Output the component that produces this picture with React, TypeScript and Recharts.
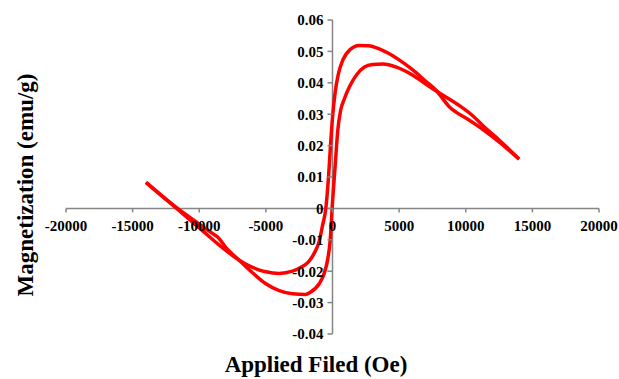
import React from 'react';
import { LineChart, Line, XAxis, YAxis, ReferenceLine } from 'recharts';

// axis ticks
const fieldTicks = [-20000, -15000, -10000, -5000, 0, 5000, 10000, 15000, 20000];
const momentTicks = [-0.04, -0.03, -0.02, -0.01, 0, 0.01, 0.02, 0.03, 0.04, 0.05, 0.06];

// branch with the higher peak (crosses zero at negative field)
const upperField = [
    -14000, -12000, -10000, -8000, -7000, -6000, -5000, -4000, -3000, -2400, -1800, -1400, -1000, -750, -500,
    -300, -150, 0, 200, 450, 800, 1300, 2000, 2700, 3500, 4200, 5000, 6000, 7000, 7800, 8100, 8800, 9300,
    10300, 11500, 12500, 14000,
];
const upperMoment = [
    0.0083, 0.0011, -0.0062, -0.0134, -0.0165, -0.0188, -0.0202, -0.0207, -0.0200, -0.0188, -0.0170, -0.0145,
    -0.0105, -0.0055, 0, 0.010, 0.020, 0.029, 0.037, 0.043, 0.0475, 0.0505, 0.0519, 0.0518, 0.0508, 0.0494,
    0.0473, 0.0442, 0.0405, 0.0375, 0.0359, 0.0322, 0.0306, 0.0280, 0.0245, 0.0212, 0.0157,
];

// branch with the deeper minimum (crosses zero near the origin)
const lowerField = [
    -14000, -12000, -10000, -9000, -8600, -8000, -7000, -6000, -5000, -4000, -3000, -2000, -1700, -1000, -650,
    -350, -170, 0, 200, 400, 600, 900, 1300, 1800, 2400, 3000, 3800, 4800, 6000, 7300, 8500, 9500, 10500,
    11500, 12500, 14000,
];
const lowerMoment = [
    0.0083, 0.0012, -0.0050, -0.0080, -0.0092, -0.0125, -0.0165, -0.0205, -0.0240, -0.0262, -0.0272, -0.0274,
    -0.0268, -0.0240, -0.0210, -0.0160, -0.0100, 0.002, 0.0136, 0.025, 0.031, 0.035, 0.039, 0.0425, 0.0450,
    0.0458, 0.0460, 0.0450, 0.0425, 0.0387, 0.0355, 0.0328, 0.0296, 0.0255, 0.0218, 0.0157,
];

const upperBranch = upperField.map((x, i) => ({ x, y: upperMoment[i] }));
const lowerBranch = lowerField.map((x, i) => ({ x, y: lowerMoment[i] }));

const W = 619;
const H = 379;
const PLOT_LEFT = 66;
const PLOT_TOP = 20;
const PLOT_RIGHT = 20;
const PLOT_BOTTOM = 45;
const xMin = -20000, xMax = 20000, yMin = -0.04, yMax = 0.06;
const plotW = W - PLOT_LEFT - PLOT_RIGHT;
const plotH = H - PLOT_TOP - PLOT_BOTTOM;
// where the axes cross
const zeroX = PLOT_LEFT + (plotW * (0 - xMin)) / (xMax - xMin);
const zeroY = PLOT_TOP + (plotH * (yMax - 0)) / (yMax - yMin);

const FONT = '"Liberation Serif", "Times New Roman", serif';
const AXIS = '#858585';

const FieldTick = (props: any) => {
    const { x, payload } = props;
    return (
        <g>
            <line x1={x} x2={x} y1={zeroY} y2={zeroY + 4} stroke={AXIS} strokeWidth={1.5} />
            <text x={x} y={zeroY + 23} textAnchor="middle" fontFamily={FONT} fontWeight="bold" fontSize={15} fill="#000">
                {payload.value}
            </text>
        </g>
    );
};

const MomentTick = (props: any) => {
    const { y, payload } = props;
    return (
        <g>
            <line x1={zeroX - 5} x2={zeroX} y1={y} y2={y} stroke={AXIS} strokeWidth={1.5} />
            <text x={zeroX - 9} y={y} dy="0.36em" textAnchor="end" fontFamily={FONT} fontWeight="bold" fontSize={15} fill="#000">
                {String(payload.value)}
            </text>
        </g>
    );
};

export default function App() {
    return (
        <div style={{ position: 'absolute', left: 0, top: 0, width: W, height: H, background: '#fff' }}>
            <LineChart width={W} height={H} margin={{ top: PLOT_TOP, right: PLOT_RIGHT, bottom: 0, left: 0 }}>
                <XAxis
                    type="number"
                    dataKey="x"
                    domain={[xMin, xMax]}
                    ticks={fieldTicks}
                    height={PLOT_BOTTOM}
                    axisLine={false}
                    tickLine={false}
                    tick={<FieldTick />}
                    interval={0}
                    allowDataOverflow
                />
                <YAxis
                    type="number"
                    dataKey="y"
                    domain={[yMin, yMax]}
                    ticks={momentTicks}
                    width={PLOT_LEFT}
                    axisLine={false}
                    tickLine={false}
                    tick={<MomentTick />}
                    interval={0}
                    allowDataOverflow
                />
                <ReferenceLine y={0} stroke={AXIS} strokeWidth={1.5} />
                <ReferenceLine x={0} stroke={AXIS} strokeWidth={1.5} />
                <Line
                    data={upperBranch}
                    dataKey="y"
                    type="monotone"
                    stroke="#ff0000"
                    strokeWidth={3.5}
                    dot={false}
                    isAnimationActive={false}
                />
                <Line
                    data={lowerBranch}
                    dataKey="y"
                    type="monotone"
                    stroke="#ff0000"
                    strokeWidth={3.5}
                    dot={false}
                    isAnimationActive={false}
                />
            </LineChart>
            <div
                style={{
                    position: 'absolute', left: 316, top: 376, transform: 'translate(-50%, -100%)',
                    fontFamily: FONT, fontWeight: 'bold', fontSize: 23, whiteSpace: 'nowrap', lineHeight: 1,
                }}
            >
                Applied Filed (Oe)
            </div>
            <div
                style={{
                    position: 'absolute', left: 25, top: 185, transform: 'translate(-50%, -50%) rotate(-90deg)',
                    fontFamily: FONT, fontWeight: 'bold', fontSize: 23, whiteSpace: 'nowrap', lineHeight: 1,
                }}
            >
                Magnetization (emu/g)
            </div>
        </div>
    );
}
